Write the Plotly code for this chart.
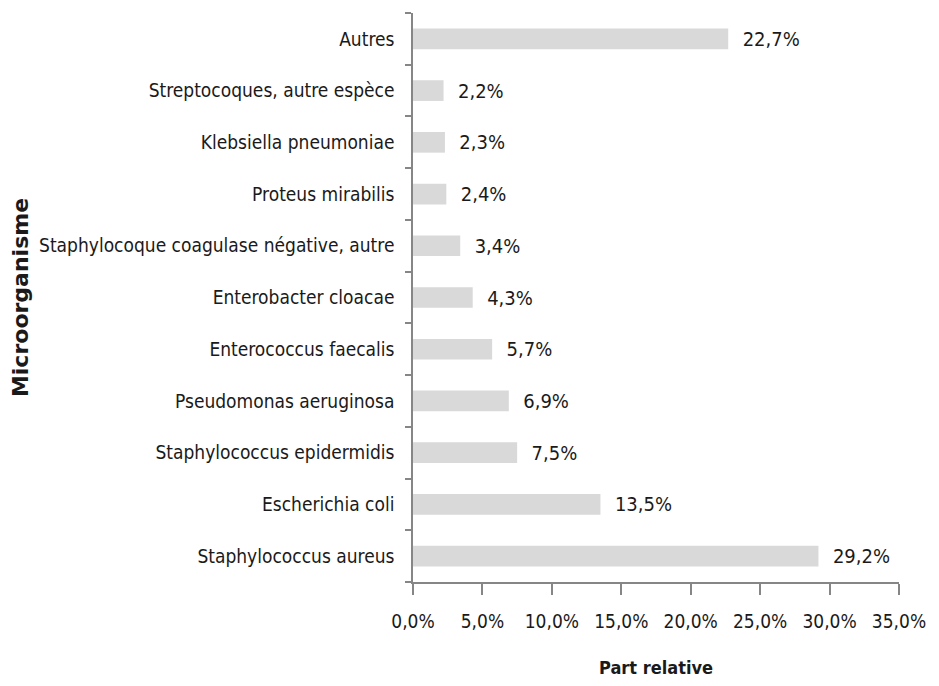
import plotly.graph_objects as go

organismes = [
    "Staphylococcus aureus",
    "Escherichia coli",
    "Staphylococcus epidermidis",
    "Pseudomonas aeruginosa",
    "Enterococcus faecalis",
    "Enterobacter cloacae",
    "Staphylocoque coagulase négative, autre",
    "Proteus mirabilis",
    "Klebsiella pneumoniae",
    "Streptocoques, autre espèce",
    "Autres",
]
parts = [29.2, 13.5, 7.5, 6.9, 5.7, 4.3, 3.4, 2.4, 2.3, 2.2, 22.7]
x_ticks = [0, 5, 10, 15, 20, 25, 30, 35]


def fr_pct(v):
    return f"{v:.1f}".replace(".", ",") + "%"


FONT = "DejaVu Sans Condensed"
AXIS = "#868686"

fig = go.Figure()
fig.add_trace(go.Bar(
    x=parts,
    y=organismes,
    orientation="h",
    marker=dict(color="#d9d9d9", line=dict(width=0)),
    text=["\u00a0\u00a0" + fr_pct(v) for v in parts],
    textposition="outside",
    constraintext="none",
    textfont=dict(family=FONT, size=20, color="#1a1a1a"),
    cliponaxis=False,
))

# the page adds an 8px body margin on every side, so the figure is 16px smaller
fig.update_layout(
    width=923,
    height=670,
    margin=dict(l=405, r=32, t=5, b=96, autoexpand=False),
    plot_bgcolor="white",
    paper_bgcolor="white",
    bargap=0.6,
    showlegend=False,
    font=dict(family=FONT, size=19, color="#1a1a1a"),
    xaxis=dict(
        range=[0, 35],
        tickvals=x_ticks,
        ticktext=[fr_pct(v) for v in x_ticks],
        showgrid=False,
        zeroline=False,
        showline=True,
        linecolor=AXIS,
        linewidth=1.5,
        ticks="outside",
        ticklen=11,
        tickcolor=AXIS,
        tickwidth=1.5,
        ticklabelstandoff=10,
        automargin=False,
        tickfont=dict(family=FONT, size=19, color="#1a1a1a"),
        title=dict(text="<b>Part relative</b>", font=dict(family=FONT, size=18), standoff=34),
    ),
    yaxis=dict(
        type="category",
        showgrid=False,
        showline=True,
        linecolor=AXIS,
        linewidth=1.5,
        ticks="outside",
        tickson="boundaries",
        ticklen=6,
        tickcolor=AXIS,
        tickwidth=1.5,
        ticklabelstandoff=13,
        automargin=False,
        tickfont=dict(family=FONT, size=19, color="#1a1a1a"),
        title=dict(text="<b>Microorganisme</b>", font=dict(family="DejaVu Sans", size=22), standoff=6),
    ),
)

fig.write_html("out.html")
